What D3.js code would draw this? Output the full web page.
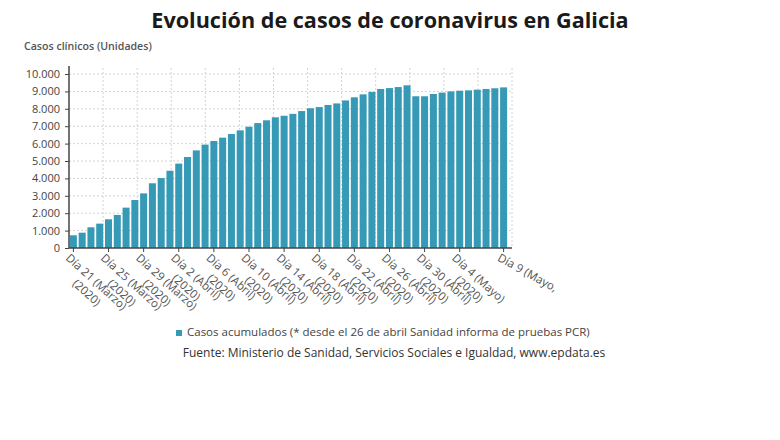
<!DOCTYPE html>
<html>
<head>
<meta charset="utf-8">
<script src="https://cdn.jsdelivr.net/npm/d3@7"></script>
<style>
  body { margin: 0; background: #fff; }
  svg { font-family: "Open Sans", sans-serif; }
</style>
</head>
<body>
<div id="chart"></div>
<script>
// Casos acumulados por día (21 marzo - 9 mayo 2020)
const dias = [
  "21/03", "22/03", "23/03", "24/03", "25/03", "26/03", "27/03", "28/03", "29/03", "30/03", "31/03",
  "01/04", "02/04", "03/04", "04/04", "05/04", "06/04", "07/04", "08/04", "09/04", "10/04",
  "11/04", "12/04", "13/04", "14/04", "15/04", "16/04", "17/04", "18/04", "19/04", "20/04",
  "21/04", "22/04", "23/04", "24/04", "25/04", "26/04", "27/04", "28/04", "29/04", "30/04",
  "01/05", "02/05", "03/05", "04/05", "05/05", "06/05", "07/05", "08/05", "09/05"
];
const casos = [
  730, 880, 1190, 1400, 1650, 1900, 2320, 2760, 3140, 3720, 4020,
  4440, 4850, 5230, 5610, 5940, 6150, 6340, 6550, 6760, 6970,
  7180, 7340, 7510, 7600, 7710, 7870, 8030, 8100, 8220, 8310,
  8480, 8660, 8830, 8970, 9140, 9190, 9250, 9350, 8720, 8720,
  8850, 8930, 9000, 9040, 9060, 9100, 9140, 9180, 9230
];

const tickDias  = ["21/03", "25/03", "29/03", "02/04", "06/04", "10/04", "14/04",
                   "18/04", "22/04", "26/04", "30/04", "04/05", "09/05"];
const tickLinea1 = ["Día 21 (Marzo)", "Día 25 (Marzo)", "Día 29 (Marzo)", "Día 2 (Abril)",
                    "Día 6 (Abril)", "Día 10 (Abril)", "Día 14 (Abril)", "Día 18 (Abril)",
                    "Día 22 (Abril)", "Día 26 (Abril)", "Día 30 (Abril)", "Día 4 (Mayo)", "Día 9 (Mayo,"];
const tickLinea2 = ["(2020)", "(2020)", "(2020)", "(2020)", "(2020)", "(2020)", "(2020)",
                    "(2020)", "(2020)", "(2020)", "(2020)", "(2020)", ""];

const yTicks = [0, 1000, 2000, 3000, 4000, 5000, 6000, 7000, 8000, 9000, 10000];

const width = 780;
const height = 440;
const plot = { left: 69, right: 512, top: 74, bottom: 248 };
const barColour = "#369ab6";

const es = d3.formatLocale({ decimal: ",", thousands: ".", grouping: [3], currency: ["", "€"] });
const fmt = es.format(",d");

const svg = d3.select("#chart")
  .append("svg")
  .attr("width", width)
  .attr("height", height);

// Title and y-axis caption
svg.append("text")
  .attr("x", 390)
  .attr("y", 28)
  .attr("text-anchor", "middle")
  .style("font-size", "21.6px")
  .style("font-weight", "bold")
  .style("fill", "#1a1a1a")
  .text("Evolución de casos de coronavirus en Galicia");

svg.append("text")
  .attr("x", 24)
  .attr("y", 50)
  .style("font-size", "10.6px")
  .style("font-weight", 600)
  .style("fill", "#555")
  .text("Casos clínicos (Unidades)");

const x = d3.scaleBand()
  .domain(dias)
  .range([plot.left, 508])
  .paddingInner(0.2)
  .paddingOuter(0.1);

const y = d3.scaleLinear()
  .domain([0, 10000])
  .range([plot.bottom, plot.top]);

// Grid — horizontal at y ticks, vertical split plot into 13 equal parts
const grid = svg.append("g")
  .attr("stroke", "#d4d4d4")
  .attr("stroke-dasharray", "2,2");

grid.selectAll("line.h")
  .data(yTicks.slice(1))
  .join("line")
    .attr("class", "h")
    .attr("x1", plot.left)
    .attr("x2", plot.right)
    .attr("y1", d => y(d))
    .attr("y2", d => y(d));

const gx = d3.scaleLinear().domain([0, 13]).range([plot.left, plot.right]);
grid.selectAll("line.v")
  .data(d3.range(1, 14))
  .join("line")
    .attr("class", "v")
    .attr("x1", d => gx(d))
    .attr("x2", d => gx(d))
    .attr("y1", plot.top - 6)
    .attr("y2", plot.bottom);

// Bars
svg.append("g")
  .selectAll("rect")
  .data(casos)
  .join("rect")
    .attr("x", (d, i) => x(dias[i]))
    .attr("y", d => y(d))
    .attr("width", x.bandwidth())
    .attr("height", d => y(0) - y(d))
    .attr("fill", barColour);

// Y axis
const yAxis = svg.append("g")
  .attr("transform", `translate(${plot.left},0)`)
  .call(d3.axisLeft(y).tickValues(yTicks).tickFormat(fmt).tickSize(4).tickPadding(5));
yAxis.select(".domain")
  .attr("d", `M0,${plot.top - 8}V${plot.bottom}`)
  .attr("stroke", "#444")
  .attr("stroke-width", 1.5);
yAxis.selectAll(".tick line").attr("stroke", "#444");
yAxis.selectAll(".tick text")
  .style("font-size", "11px")
  .style("fill", "#444")
  .style("font-family", "Open Sans, sans-serif");

// X axis
const xAxis = svg.append("g")
  .attr("transform", `translate(0,${plot.bottom})`)
  .call(d3.axisBottom(x).tickValues(tickDias).tickSize(4).tickFormat(""));
xAxis.select(".domain")
  .attr("d", `M${plot.left},0H${plot.right}`)
  .attr("stroke", "#444")
  .attr("stroke-width", 1.5);
xAxis.selectAll(".tick line").attr("stroke", "#444");

// Two-line labels, rotated; second line centred under the first
const last = tickDias.length - 1;
const xl = xAxis.selectAll(".tick")
  .append("text")
  .attr("transform", (d, i) => `translate(-3,5) rotate(${i === last ? 29 : 42})`)
  .attr("text-anchor", "start")
  .attr("fill", "#555")
  .style("font-size", "11.5px")
  .style("font-family", "Open Sans, sans-serif");
const l1 = xl.append("tspan")
  .attr("x", 0)
  .attr("dy", "0.71em")
  .text((d, i) => tickLinea1[i]);
const l2 = xl.append("tspan")
  .attr("dy", "1.25em")
  .text((d, i) => tickLinea2[i]);
l2.attr("x", function(d, i) {
  const w1 = l1.nodes()[i].getComputedTextLength();
  return (w1 - this.getComputedTextLength()) / 2;
});

// Legend and source
const legend = svg.append("g").attr("transform", "translate(176,330)");
legend.append("rect")
  .attr("width", 6)
  .attr("height", 6)
  .attr("fill", barColour);
legend.append("text")
  .attr("x", 11)
  .attr("y", 6)
  .style("font-size", "11.5px")
  .style("fill", "#444")
  .text("Casos acumulados (* desde el 26 de abril Sanidad informa de pruebas PCR)");

svg.append("text")
  .attr("x", 394)
  .attr("y", 357)
  .attr("text-anchor", "middle")
  .style("font-size", "12px")
  .style("fill", "#333")
  .text("Fuente: Ministerio de Sanidad, Servicios Sociales e Igualdad, www.epdata.es");
</script>
</body>
</html>
